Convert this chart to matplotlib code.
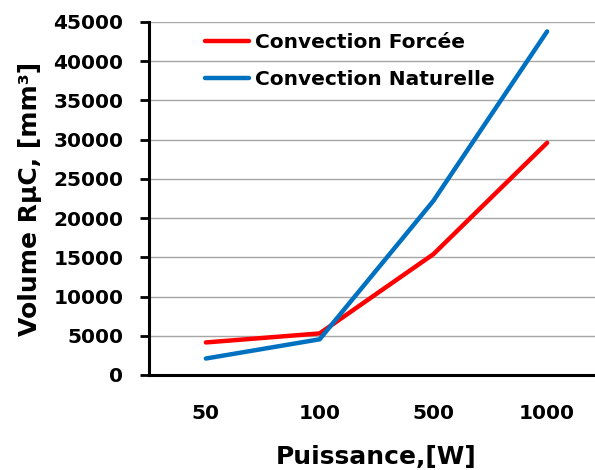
import matplotlib
matplotlib.use("Agg")
import matplotlib.pyplot as plt

categories = ["50", "100", "500", "1000"]
forcee = [4150, 5300, 15400, 29600]
naturelle = [2100, 4550, 22200, 43800]
yticks = list(range(0, 45001, 5000))

plt.rcParams['font.family'] = ['DejaVu Sans']
plt.rcParams['font.weight'] = 'bold'

fig = plt.figure(figsize=(5.95, 4.70), dpi=100)
ax = fig.add_axes([149/595, 1-375/470, 455/595, 353/470])

x = list(range(len(categories)))
l1, = ax.plot(x, forcee, color='#FF0000', lw=3.2, solid_capstyle='round', label='Convection Forcée', zorder=3)
l2, = ax.plot(x, naturelle, color='#0070C0', lw=3.2, solid_capstyle='round', label='Convection Naturelle', zorder=3)

ax.set_xlim(-0.5, 3.5)
ax.set_ylim(0, 45000)
ax.set_yticks(yticks)
ax.set_yticklabels([str(v) for v in yticks], fontsize=14.5, fontweight='bold')
ax.set_xticks(x)
ax.set_xticklabels(categories, fontsize=14.5, fontweight='bold')
ax.yaxis.grid(True, color='#A6A6A6', lw=1)
ax.set_axisbelow(True)
for s in ['top', 'right']:
    ax.spines[s].set_visible(False)
for s in ['left', 'bottom']:
    ax.spines[s].set_linewidth(2.2)
    ax.spines[s].set_color('black')
ax.tick_params(axis='y', length=6.5, width=2, pad=12)
ax.tick_params(axis='x', length=0, pad=21)

ax.set_xlabel('Puissance,[W]', fontsize=18, fontweight='bold', labelpad=16)
ax.set_ylabel('Volume RµC, [mm³]', fontsize=18, fontweight='bold', labelpad=8)

leg = fig.legend(handles=[l1, l2], loc='upper left', bbox_to_anchor=(205/595, 1-33/470),
                 frameon=False, handlelength=2.2, handletextpad=0.3,
                 labelspacing=0.9, borderaxespad=0, borderpad=0,
                 prop={'weight': 'bold', 'size': 14.5})

fig.savefig('out.png', dpi=100)
